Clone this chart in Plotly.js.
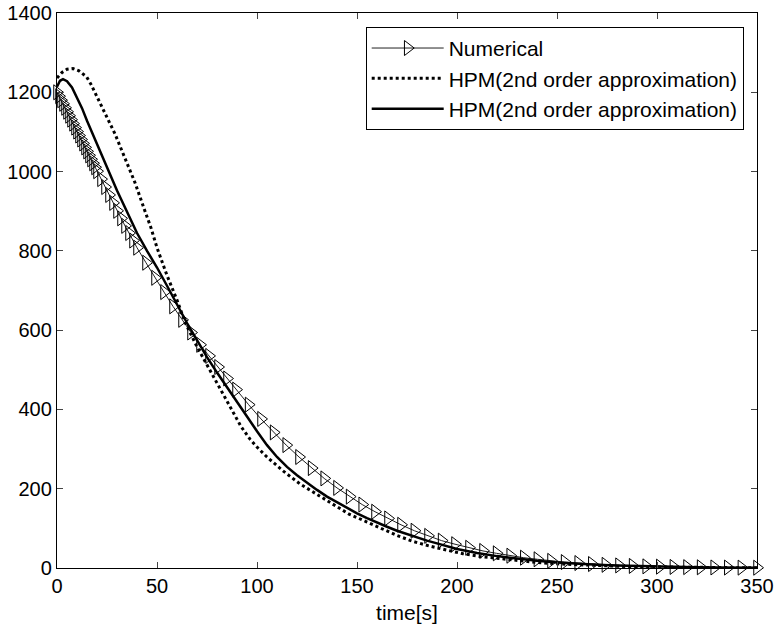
<!DOCTYPE html>
<html>
<head>
<meta charset="utf-8">
<script src="https://cdn.plot.ly/plotly-3.0.1.min.js"></script>
<style>html,body{margin:0;padding:0;background:#fff;}#chart{width:779px;height:629px;}</style>
</head>
<body>
<div id="chart"></div>
<script>
// Numerical solution (solver steps)
const numT = [0,1,2,3,4,5,6,7,8,9,10,11,12,13,14,15,16,17,18,19,20,22,24,26,28,30,32,34,36,38,40,44.5,49,53.5,58,62.5,67,71.5,76,80.5,85,89.5,95.8,102,108.3,114.6,121,127.3,133.6,140,146.3,152.6,159,165.5,172,178.7,185.5,192.3,199,206,213,219.8,226.6,233.4,240.2,247,253.8,260.6,267.4,274.2,281,287.8,294.6,301.4,308.2,315,321.8,328.6,335.4,342.2,350];
const numV = [1200,1190,1180,1171,1161,1151,1141,1131,1121,1111,1101,1091,1081,1071,1061,1051,1041,1031,1021,1011,1001,981,961,941,921,901,882,863,845,826,808,770,732,696,660,626,594,563,535,507,478,450,412,376,342,310,280,252,226,202,180,160,142,125,109,94,81,69,60,51,43,37,31,26,22,18,15,12.5,10,8,6.5,5.2,4.2,3.4,2.7,2.2,1.8,1.4,1.1,0.9,0.7];

// HPM dotted curve
const hpmDotT = [0,2.5,5,8,11,14.8,17,19.8,24,29,34,39,44,47,50,55,60,64,70,76.5,80,84,88,92,96.5,100,105,113,121.5,130,138,146,155,163,170,178,186.5,195,203,211.5,220,230,240,250,260,270,280,290,300,310,320,330,340,350];
const hpmDotV = [1236,1250,1258,1260,1254,1239,1220,1189,1147,1095,1035,972,900,858,808,738,676,620,558,499,468,432,392,357,325,305,280,245,212,185,160,136,116,98,82,67,55,45,36,29,24,19,14,10.5,8,6,4.5,3.3,2.5,1.8,1.3,1,0.7,0.5];

// HPM solid curve
const hpmSolT = [0,1.5,3,5,7.5,10,12.5,15,20,25,30,35,40,45,50,55,60,65,70,75,80,85,90,95,100,105,110,115,120,125,130,135,140,145,150,155,160,165,170,175,180,185,190,195,200,210,220,230,240,250,260,270,280,290,300,310,320,330,340,350];
const hpmSolV = [1214,1229,1233,1228,1212,1188,1160,1128,1071,1011,952,898,845,800,758,712,665,618,575,532,493,455,420,382,345,310,280,255,234,215,197,180,166,151,138,126,114,104,94,85,77,69,62,55,48,38,30,24,18,14,10.5,8,6,4.5,3.3,2.5,1.8,1.3,1,0.7];

const legendNames = ['Numerical','HPM(2nd order approximation)','HPM(2nd order approximation)'];

const traces = [
  {x:numT, y:numV, name:legendNames[0], mode:'lines+markers', cliponaxis:false,
   line:{color:'#222', width:1},
   marker:{symbol:'triangle-right-open', size:13, color:'#000', line:{width:1, color:'#000'}}},
  {x:hpmDotT, y:hpmDotV, name:legendNames[1], mode:'lines', line:{color:'#000', width:3, dash:'dot'}},
  {x:hpmSolT, y:hpmSolV, name:legendNames[2], mode:'lines', line:{color:'#000', width:2.5}}
];

const fontFam = 'Liberation Sans, Arial, Helvetica, sans-serif';
const layout = {
  width:779, height:629,
  margin:{l:57, r:22, t:13, b:61},
  paper_bgcolor:'#fff', plot_bgcolor:'#fff',
  font:{family:fontFam, size:20, color:'#000'},
  showlegend:true,
  legend:{x:0.441, y:0.975, xanchor:'left', yanchor:'top', bgcolor:'#fff',
          bordercolor:'#000', borderwidth:1, font:{family:fontFam, size:21, color:'#000'},
          itemwidth:72, tracegroupgap:0},
  xaxis:{range:[0,350], tick0:0, dtick:50, ticks:'inside', ticklen:6, tickcolor:'#444',
         showline:true, linecolor:'#000', linewidth:1.2, mirror:'ticks', showgrid:false, zeroline:false,
         tickfont:{family:fontFam, size:20}, title:{text:'time[s]', font:{family:fontFam, size:21}, standoff:9}},
  yaxis:{range:[0,1400], tick0:0, dtick:200, ticks:'inside', ticklen:6, tickcolor:'#444',
         showline:true, linecolor:'#000', linewidth:1.2, mirror:'ticks', showgrid:false, zeroline:false,
         tickfont:{family:fontFam, size:20}}
};
Plotly.newPlot('chart', traces, layout, {displayModeBar:false, staticPlot:true});
</script>
</body>
</html>
